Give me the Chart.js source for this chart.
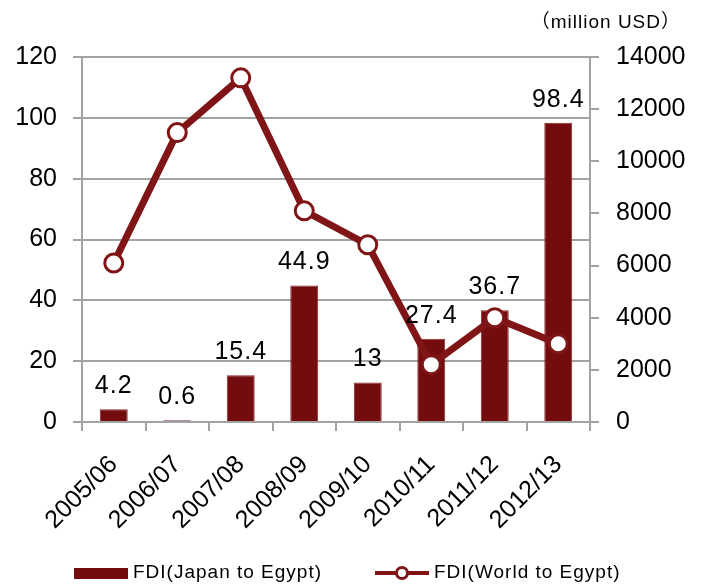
<!DOCTYPE html>
<html>
<head>
<meta charset="utf-8">
<script src="https://cdn.jsdelivr.net/npm/chart.js@4/dist/chart.umd.min.js"></script>
<style>
  body { margin: 0; background: #ffffff; }
  #box { position: relative; width: 704px; height: 586px; }
</style>
</head>
<body>
<div id="box">
  <canvas id="myChart" width="704" height="586"></canvas>
</div>
<script>
const labels = ['2005/06', '2006/07', '2007/08', '2008/09', '2009/10', '2010/11', '2011/12', '2012/13'];
const japanFDI = [4.2, 0.6, 15.4, 44.9, 13, 27.4, 36.7, 98.4];
const worldFDI = [6100, 11100, 13200, 8100, 6800, 2200, 4000, 3000];
const leftTicks = [0, 20, 40, 60, 80, 100, 120];
const rightTicks = [0, 2000, 4000, 6000, 8000, 10000, 12000, 14000];

const barColor = '#720c0e';
const lineColor = '#801517';
const gridColor = '#a3a3a3';
const fontName = "'Liberation Sans', Arial, sans-serif";

// numbers above the bars
const barLabels = {
  id: 'barLabels',
  afterDatasetsDraw(chart) {
    const ctx = chart.ctx;
    const meta = chart.getDatasetMeta(0);
    ctx.save();
    ctx.font = '25px ' + fontName;
    ctx.letterSpacing = '1px';
    ctx.fillStyle = '#000000';
    ctx.textAlign = 'center';
    ctx.textBaseline = 'alphabetic';
    meta.data.forEach(function (bar, i) {
      ctx.fillText(String(japanFDI[i]), bar.x, bar.y - 16);
    });
    ctx.restore();
  }
};

// unit text and legend
const extras = {
  id: 'extras',
  afterDraw(chart) {
    const ctx = chart.ctx;
    ctx.save();
    ctx.letterSpacing = '1px';
    ctx.font = "19px 'Liberation Sans', 'Noto Sans CJK JP', sans-serif";
    ctx.fillStyle = '#000000';
    ctx.textAlign = 'right';
    ctx.textBaseline = 'middle';
    ctx.fillText('（million USD）', 681, 23);

    // legend
    const ly = 573;
    ctx.fillStyle = barColor;
    ctx.fillRect(74, ly - 5, 54, 11);
    ctx.fillStyle = '#000000';
    ctx.textAlign = 'left';
    ctx.font = '19px ' + fontName;
    ctx.fillText('FDI(Japan to Egypt)', 133, ly);

    ctx.strokeStyle = lineColor;
    ctx.lineWidth = 4;
    ctx.beginPath();
    ctx.moveTo(375, ly);
    ctx.lineTo(429, ly);
    ctx.stroke();
    ctx.beginPath();
    ctx.arc(402, ly, 5.5, 0, Math.PI * 2);
    ctx.fillStyle = '#ffffff';
    ctx.fill();
    ctx.lineWidth = 3;
    ctx.stroke();
    ctx.fillStyle = '#000000';
    ctx.fillText('FDI(World to Egypt)', 434, ly);
    ctx.restore();
  }
};

const data = {
  labels: labels,
  datasets: [{
    type: 'bar',
    label: 'FDI(Japan to Egypt)',
    data: japanFDI,
    backgroundColor: barColor,
    borderColor: '#8c2a2b',
    borderWidth: 1,
    barPercentage: 0.88,
    categoryPercentage: 0.5,
    yAxisID: 'y',
    order: 2
  },
  {
    type: 'line',
    label: 'FDI(World to Egypt)',
    data: worldFDI,
    borderColor: lineColor,
    borderWidth: 7,
    pointRadius: 9,
    pointBorderWidth: 3,
    pointBackgroundColor: '#ffffff',
    pointBorderColor: lineColor,
    tension: 0,
    yAxisID: 'y1',
    order: 1
  }]
};

const config = {
  type: 'bar',
  data: data,
  options: {
    responsive: false,
    animation: false,
    layout: { padding: { top: 57, left: 0, right: 0, bottom: 0 } },
    plugins: {
      legend: { display: false },
      tooltip: { enabled: false }
    },
    scales: {
      x: {
        offset: true,
        grid: { offset: true, drawOnChartArea: false, drawTicks: true, tickLength: 9, color: gridColor, lineWidth: 2 },
        border: { display: true, color: gridColor, width: 2 },
        ticks: {
          color: '#000000',
          font: { family: fontName, size: 25 },
          maxRotation: 45,
          minRotation: 45,
          padding: 19
        },
        afterFit(scale) { scale.height = 164; }
      },
      y: {
        position: 'left',
        min: 0,
        max: 120,
        afterBuildTicks(scale) { scale.ticks = leftTicks.map(function (v) { return { value: v }; }); },
        grid: { color: gridColor, lineWidth: 2, tickLength: 9 },
        border: { display: true, color: gridColor, width: 2 },
        ticks: { color: '#000000', font: { family: fontName, size: 25 }, padding: 16 },
        afterFit(scale) { scale.width = 82; }
      },
      y1: {
        position: 'right',
        min: 0,
        max: 14000,
        afterBuildTicks(scale) { scale.ticks = rightTicks.map(function (v) { return { value: v }; }); },
        grid: { drawOnChartArea: false, color: gridColor, lineWidth: 2, tickLength: 9 },
        border: { display: true, color: gridColor, width: 2 },
        ticks: {
          color: '#000000',
          font: { family: fontName, size: 25 },
          padding: 17,
          callback: function (value) { return String(value); }
        },
        afterFit(scale) { scale.width = 114; }
      }
    }
  },
  plugins: [barLabels, extras]
};

const myChart = new Chart(document.getElementById('myChart'), config);
</script>
</body>
</html>
